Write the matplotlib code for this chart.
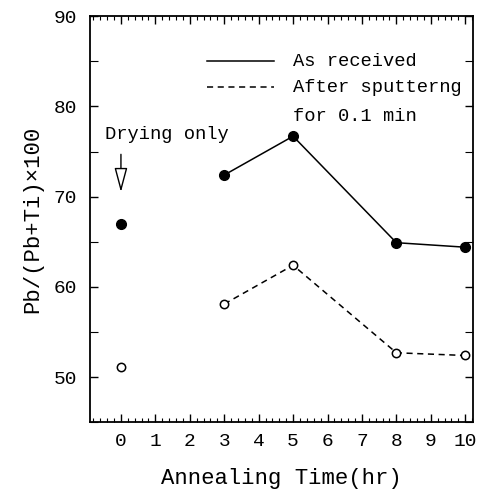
import matplotlib
matplotlib.use("Agg")
import matplotlib.pyplot as plt
from matplotlib.ticker import MultipleLocator

plt.rcParams['font.family'] = ['Liberation Mono', 'DejaVu Sans']

# annealing time (hr) and Pb fraction
time_hr = [0, 3, 5, 8, 10]
as_received = [67.0, 72.4, 76.7, 64.9, 64.4]
after_sputter = [51.1, 58.1, 62.4, 52.7, 52.4]
xtick_vals = list(range(0, 11))

fig = plt.figure(figsize=(4.97, 4.91), dpi=100)
ax = fig.add_axes([0.181, 0.14, 0.771, 0.827])

# drying-only points are not joined to the annealed ones
ax.plot(time_hr[0], as_received[0], 'o', color='black', ms=7)
ax.plot(time_hr[1:], as_received[1:], '-o', color='black', lw=1.1, ms=7)
ax.plot(time_hr[0], after_sputter[0], 'o', mfc='white', mec='black', mew=1.1, ms=6)
ax.plot(time_hr[1:], after_sputter[1:], '--o', color='black', lw=1.1, ms=6,
        mfc='white', mec='black', mew=1.1, dashes=(4, 3))

ax.set_xlim(-0.9, 10.23)
ax.set_ylim(45, 90)
ax.set_xticks(xtick_vals)
ax.xaxis.set_minor_locator(MultipleLocator(0.2))
ax.yaxis.set_major_locator(MultipleLocator(10))
ax.yaxis.set_minor_locator(MultipleLocator(5))
ax.tick_params(which='both', direction='in', top=True, right=True, labelsize=14)
ax.tick_params(axis='x', pad=8)
ax.tick_params(axis='y', pad=9)
ax.tick_params(which='major', length=6, width=1)
ax.tick_params(which='minor', length=3, width=0.8)
ax.tick_params(axis='y', which='minor', length=6)
for s in ax.spines.values():
    s.set_linewidth(1.3)

ax.set_xlabel('Annealing Time(hr)', fontsize=16, labelpad=13)
ax.set_ylabel('Pb/(Pb+Ti)\u00d7100', fontsize=16, labelpad=8)

# hand-drawn style key
ax.plot([2.5, 4.45], [85, 85], '-', color='black', lw=1.1)
ax.plot([2.5, 4.45], [82.1, 82.1], '--', color='black', lw=1.1, dashes=(4, 3))
ax.text(5.0, 85, 'As received', fontsize=13.5, va='center')
ax.text(5.0, 82.1, 'After sputterng', fontsize=13.5, va='center')
ax.text(5.0, 78.9, 'for 0.1 min', fontsize=13.5, va='center')

ax.text(-0.47, 76.9, 'Drying only', fontsize=13.5, va='center')
ax.annotate('', xy=(0, 70.2), xytext=(0, 75.0),
            arrowprops=dict(arrowstyle='-|>,head_length=1.5,head_width=0.4',
                            fc='white', ec='black', lw=1.0))

fig.savefig('out.png', dpi=100)
